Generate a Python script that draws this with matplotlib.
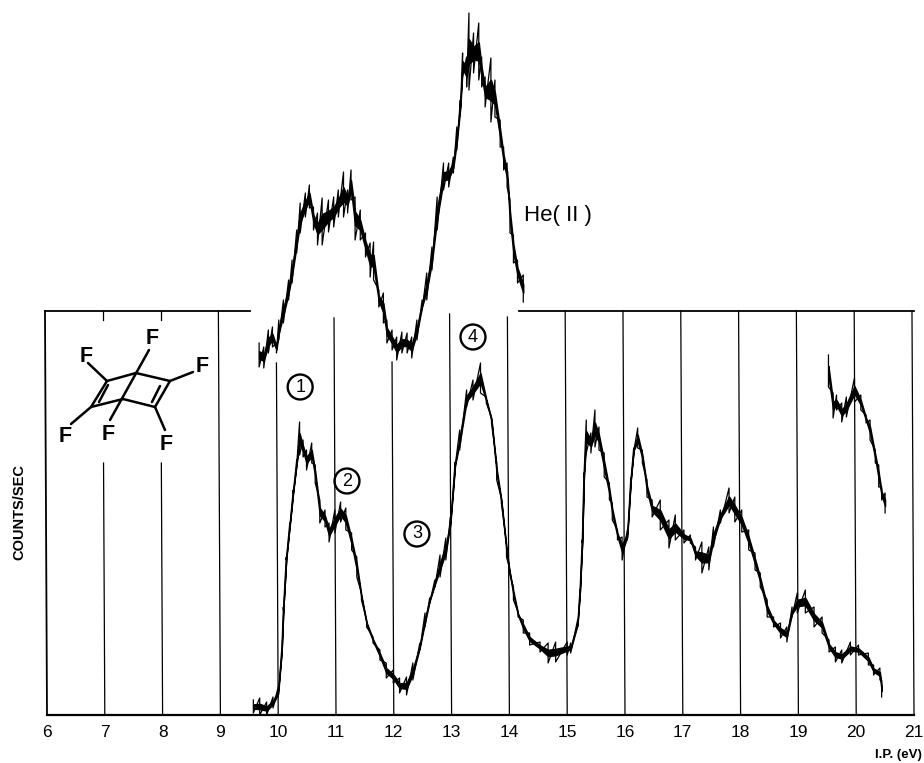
import numpy as np
import matplotlib
matplotlib.use("Agg")
import matplotlib.pyplot as plt

# He(I) spectrum: energy (eV), upper and lower edge of the noisy trace (counts)
main_ev = [9.57,9.68,9.80,9.91,10.0,10.06,10.09,10.14,10.2,10.26,10.32,10.37,10.43,10.49,10.58,10.64,10.72,10.81,10.88,10.98,11.08,11.17,11.27,11.36,11.44,11.53,11.64,11.76,11.87,11.99,12.1,12.22,12.33,12.45,12.54,12.62,12.71,12.8,12.9,12.98,13.06,13.14,13.26,13.37,13.5,13.6,13.69,13.78,13.86,13.95,14.0,14.07,14.15,14.24,14.35,14.53,14.67,14.8,15.0,15.06,15.18,15.22,15.26,15.29,15.33,15.41,15.48,15.55,15.64,15.73,15.78,15.87,15.95,16.04,16.1,16.15,16.22,16.3,16.38,16.47,16.61,16.76,16.87,17.02,17.13,17.22,17.33,17.45,17.53,17.65,17.8,17.9,18.02,18.14,18.25,18.34,18.46,18.57,18.69,18.8,18.89,18.98,19.12,19.27,19.41,19.53,19.64,19.75,19.9,20.04,20.21,20.3,20.41,20.44]
main_hi = [15,17,13,18,28,65,108,158,192,225,255,293,275,265,272,250,215,205,192,205,213,207,182,158,122,95,78,65,52,45,37,38,52,72,102,117,135,160,177,198,253,285,325,335,352,318,298,252,217,172,147,128,103,95,82,73,72,73,73,72,95,125,175,242,295,282,305,288,262,232,212,185,178,185,237,267,287,265,235,215,215,195,200,185,180,168,173,168,188,205,227,218,205,185,162,142,115,98,92,88,108,122,125,108,98,75,68,65,73,70,62,50,47,35]
main_lo = [2,0,0,7,18,62,105,155,188,222,250,260,258,245,252,232,192,188,173,182,193,185,165,138,115,88,72,55,37,32,22,20,35,65,88,112,128,138,155,188,248,265,308,315,322,312,292,235,212,158,142,115,98,82,70,63,52,53,60,62,88,122,172,238,262,262,268,265,238,215,195,175,155,175,233,263,267,252,218,198,185,167,175,172,172,155,142,145,168,192,202,193,183,165,145,128,98,88,77,73,98,102,102,88,82,63,53,52,60,60,50,40,35,18]

# Inset repeat of the spectrum end at higher gain
inset_ev = [19.52,19.6,19.66,19.75,19.83,19.97,20.08,20.17,20.24,20.33,20.39,20.44,20.5]
inset_hi = [360,322,320,312,318,337,320,300,295,265,250,228,222]
inset_lo = [328,297,305,293,298,313,305,292,275,252,228,215,202]

# He(II) spectrum
heii_ev = [9.67,9.75,9.83,9.9,9.97,10.01,10.09,10.18,10.24,10.32,10.38,10.47,10.54,10.61,10.68,10.76,10.87,10.96,11.04,11.13,11.2,11.26,11.33,11.42,11.51,11.59,11.65,11.74,11.82,11.88,11.97,12.05,12.14,12.23,12.31,12.4,12.49,12.57,12.66,12.75,12.86,12.95,13.03,13.09,13.15,13.19,13.26,13.3,13.38,13.47,13.52,13.58,13.68,13.75,13.84,13.9,13.96,14.01,14.07,14.14,14.24]
heii_hi = [372,368,385,388,372,395,415,435,455,485,512,522,530,508,502,517,515,518,525,543,525,545,518,505,482,472,473,425,422,395,385,378,383,382,378,395,415,442,468,518,552,552,558,588,615,662,658,702,682,692,658,638,657,635,595,568,552,515,480,455,440]
heii_lo = [348,347,362,368,362,375,392,415,432,462,482,498,507,485,470,470,483,488,498,498,502,515,475,475,458,438,435,408,392,372,365,355,362,362,357,375,405,415,445,485,525,528,542,565,602,638,628,625,642,635,628,608,593,598,568,545,528,482,452,432,413]

tick_vals = [6,7,8,9,10,11,12,13,14,15,16,17,18,19,20,21]
grid_vals = [9,10,11,12,13,14,15,16,17,18,19,20,21]
grid_tops = [404,352,397,353,401,398,404,404,404,404,404,404,404]
short_vals = [7,8]
short_top = 252
peak_labels = ["1","2","3","4"]
peak_ev = [10.38,11.19,12.4,13.37]
peak_cnt = [328,234,181,378]

YMAX = 404
TILT = 0.035

plt.rcParams['font.family'] = ['Liberation Sans', 'DejaVu Sans']
fig = plt.figure(figsize=(9.24, 7.63), dpi=100)
ax = fig.add_axes([47/924, (763-715)/763, (914-47)/924, YMAX/763])
ax.set_xlim(6, 21)
ax.set_ylim(0, YMAX)
for s in ax.spines.values():
    s.set_visible(False)
ax.set_yticks([])
ax.set_xticks(tick_vals)
ax.set_xticklabels([str(v) for v in tick_vals], fontsize=12.5)
ax.tick_params(axis='x', length=0, pad=7)


def tilted(v, top, **kw):
    ax.plot([v, v - TILT*top/YMAX], [0, top], color='black', clip_on=False, **kw)


for v, t in zip(grid_vals, grid_tops):
    tilted(v, t, lw=0.9)
for v in short_vals:
    tilted(v, short_top, lw=0.9)
    ax.plot([v - TILT, v - TILT], [395, YMAX], color='black', lw=0.9)
ax.plot([6, 6 - TILT], [0, YMAX], color='black', lw=1.3, clip_on=False)
ax.plot([6, 21], [0, 0], color='black', lw=1.6, clip_on=False)
ax.plot([6 - TILT, 9.52], [YMAX, YMAX], color='black', lw=1.3, clip_on=False)
ax.plot([14.16, 21], [YMAX, YMAX], color='black', lw=1.3, clip_on=False)


def trace(ev, hi, lo):
    ev, hi, lo = map(np.asarray, (ev, hi, lo))
    mid_hi = hi*0.66 + lo*0.34
    mid_lo = hi*0.34 + lo*0.66
    ax.fill_between(ev, mid_lo, mid_hi, color='black', lw=1.0, clip_on=False, zorder=3)
    xs = np.column_stack([ev, ev]).ravel()
    ys = np.column_stack([hi, lo]).ravel()
    ax.plot(xs, ys, color='black', lw=0.9, clip_on=False, zorder=3)


trace(main_ev, main_hi, main_lo)
trace(inset_ev, inset_hi, inset_lo)
trace(heii_ev, heii_hi, heii_lo)

for lab, x, y in zip(peak_labels, peak_ev, peak_cnt):
    ax.text(x, y, lab, ha='center', va='center', fontsize=13, zorder=4,
            bbox=dict(boxstyle='circle,pad=0.22', fc='none', ec='black', lw=1.7))

fig.text(19/924, 1-512/763, 'COUNTS/SEC', rotation=90, ha='center', va='center',
         fontsize=10.5, fontweight='bold')
fig.text(922/924, 1-755/763, 'I.P. (eV)', ha='right', va='center', fontsize=9.5, fontweight='bold')
fig.text(524/924, 1-215/763, 'He( II )', ha='left', va='center', fontsize=16)

# Molecule sketch in pixel coordinates
mol = fig.add_axes([0, 0, 1, 1], facecolor='none')
mol.set_xlim(0, 924)
mol.set_ylim(763, 0)
mol.axis('off')
bonds = [((107,381),(136,373)),((136,373),(170,381)),((170,381),(155,407)),((155,407),(123,399)),
         ((123,399),(91,407)),((91,407),(107,381)),((160,386),(152,402)),((108,385),(99,402)),
         ((149,350),(110,420)),((107,381),(88,363)),((170,381),(193,372)),((91,407),(71,424)),
         ((155,407),(165,430))]
for (x0, y0), (x1, y1) in bonds:
    mol.plot([x0, x1], [y0, y1], color='black', lw=1.8, solid_capstyle='round')
for x, y in [(152,338),(86,357),(202,366),(65,437),(108,435),(166,445)]:
    mol.text(x, y, 'F', ha='center', va='center', fontsize=15.5, fontweight='bold')

fig.savefig('out.png', dpi=100)
